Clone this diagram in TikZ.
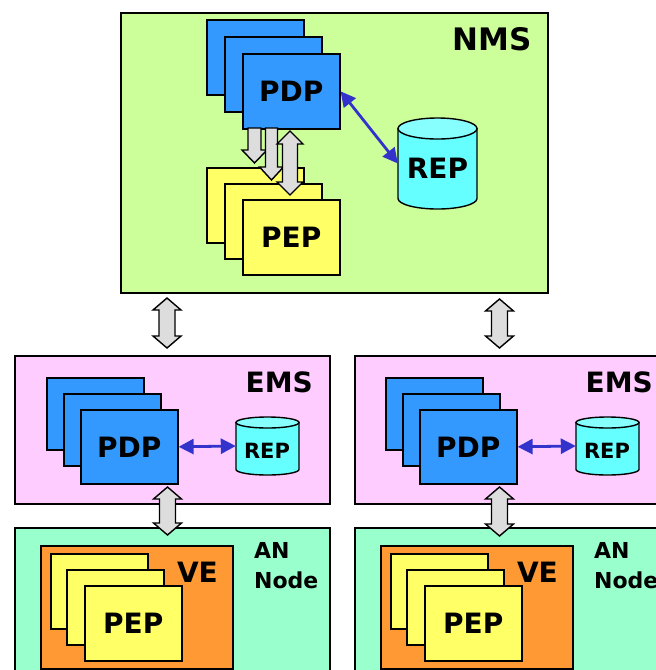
\documentclass[tikz,border=0pt]{standalone}
\usepackage{fontspec}
\setmainfont{DejaVu Sans}
\usetikzlibrary{arrows.meta,decorations.pathmorphing}

\definecolor{nmsgreen}{HTML}{CCFF99}
\definecolor{pdpblue}{HTML}{3399FF}
\definecolor{pepyellow}{HTML}{FFFF66}
\definecolor{repcyan}{HTML}{66FFFF}
\definecolor{reptop}{HTML}{88FFFF}
\definecolor{emspink}{HTML}{FFCCFF}
\definecolor{angreen}{HTML}{99FFCC}
\definecolor{veorange}{HTML}{FF9933}
\definecolor{arrowgrey}{HTML}{DDDDDD}
\definecolor{linkblue}{HTML}{3333CC}

% block arrows: #1 cx, #2 top y, #3 bottom y, #4 shaft half width, #5 head half width, #6 head length
\newcommand{\blockdouble}[6]{%
  \draw[blockarrow] (#1,#2) -- ({#1+#5},{#2+#6}) -- ({#1+#4},{#2+#6}) -- ({#1+#4},{#3-#6})
    -- ({#1+#5},{#3-#6}) -- (#1,#3) -- ({#1-#5},{#3-#6}) -- ({#1-#4},{#3-#6})
    -- ({#1-#4},{#2+#6}) -- ({#1-#5},{#2+#6}) -- cycle;}
\newcommand{\blockdown}[6]{%
  \draw[blockarrow] ({#1-#4},#2) -- ({#1+#4},#2) -- ({#1+#4},{#3-#6}) -- ({#1+#5},{#3-#6})
    -- (#1,#3) -- ({#1-#5},{#3-#6}) -- ({#1-#4},{#3-#6}) -- cycle;}
% cylinder: #1 cx, #2 top ellipse centre y, #3 bottom ellipse centre y, #4 rx, #5 ry
\newcommand{\repdrum}[5]{%
  \draw[drum, fill=repcyan] ({#1-#4},#2) -- ({#1-#4},#3)
    arc[start angle=180, end angle=360, x radius=#4pt, y radius=#5pt] -- ({#1+#4},#2) -- cycle;
  \draw[drum, fill=reptop] (#1,#2) ellipse [x radius=#4pt, y radius=#5pt];}

\tikzset{
  outer/.style={draw=black, line width=1.8pt, rectangle, inner sep=0pt, anchor=north west},
  card/.style={draw=black, line width=1.6pt, rectangle, inner sep=0pt, anchor=north west,
    minimum width=97pt, minimum height=75pt, font=\bfseries\fontsize{28}{30}\selectfont},
  pdpcard/.style={card, fill=pdpblue},
  pepcard/.style={card, fill=pepyellow},
  lbl/.style={inner sep=0pt, font=\bfseries\fontsize{28}{30}\selectfont},
  blockarrow/.style={fill=arrowgrey, draw=black, line width=1.4pt, line join=miter},
  drum/.style={draw=black, line width=1.4pt},
  linkarrow/.style={draw=linkblue, line width=2.8pt,
    {Triangle[length=15pt,width=15pt]}-{Triangle[length=15pt,width=15pt]}},
}

\begin{document}
\begin{tikzpicture}[x=1pt, y=-1pt]
\clip (0,0) rectangle (656,670);
\fill[white] (0,0) rectangle (656,670);

% ---------------- NMS ----------------
\node[outer, fill=nmsgreen, minimum width=427pt, minimum height=280pt] (nms) at (120,12) {};
\node[lbl, anchor=base east, font=\bfseries\fontsize{31}{33}\selectfont] (nmslbl) at (532,50) {NMS};

\node[pdpcard] (nmsPDPa) at (206,19) {};
\node[pdpcard] (nmsPDPb) at (224,36) {};
\node[pdpcard] (nmsPDPc) at (242,53) {PDP};

\node[pepcard] (nmsPEPa) at (206,167) {};
\node[pepcard] (nmsPEPb) at (224,183) {};
\node[pepcard] (nmsPEPc) at (242,199) {PEP};

\repdrum{437.5}{128.5}{198.5}{39.5}{10.5}
\node[inner sep=0pt, minimum width=79pt, minimum height=70pt] (nmsREP) at (437.5,163.5) {};
\node[lbl] (nmsREPtxt) at (437.5,168.5) {REP};

\draw[linkarrow] (nmsPDPc.east) -- (nmsREP.west);

\blockdown{254.5}{128}{163}{6.5}{12.5}{13}
\blockdown{271.5}{128}{180}{6}{12}{13}
\blockdouble{290}{131}{195}{7.5}{13}{13}

% ---------------- EMS left ----------------
\node[outer, fill=emspink, minimum width=315pt, minimum height=148pt] (emsL) at (14,355) {};
\node[lbl, anchor=base east] (emsLlbl) at (313,392) {EMS};
\node[pdpcard, minimum height=72pt] (emsLPDPa) at (46,377) {};
\node[pdpcard, minimum height=72pt] (emsLPDPb) at (63,393) {};
\node[pdpcard, minimum height=74pt] (emsLPDPc) at (80,409) {PDP};
\repdrum{267.5}{422.5}{469.5}{31.5}{5.5}
\node[inner sep=0pt, minimum width=63pt, minimum height=47pt] (emsLREP) at (267.5,446) {};
\node[lbl, font=\bfseries\fontsize{21}{23}\selectfont] (emsLREPtxt) at (267,451) {REP};
\draw[linkarrow] (emsLPDPc.east) -- (emsLREP.west);

% ---------------- EMS right ----------------
\node[outer, fill=emspink, minimum width=330pt, minimum height=148pt] (emsR) at (354,355) {};
\node[lbl, anchor=base east] (emsRlbl) at (653,392) {EMS};
\node[pdpcard, minimum height=72pt] (emsRPDPa) at (385,377) {};
\node[pdpcard, minimum height=72pt] (emsRPDPb) at (402,393) {};
\node[pdpcard, minimum height=74pt] (emsRPDPc) at (419,409) {PDP};
\repdrum{607.5}{422.5}{469.5}{31.5}{5.5}
\node[inner sep=0pt, minimum width=63pt, minimum height=47pt] (emsRREP) at (607.5,446) {};
\node[lbl, font=\bfseries\fontsize{21}{23}\selectfont] (emsRREPtxt) at (607,451) {REP};
\draw[linkarrow] (emsRPDPc.east) -- (emsRREP.west);

% ---------------- AN left ----------------
\node[outer, fill=angreen, minimum width=315pt, minimum height=160pt] (anL) at (14,527) {};
\node[inner sep=0pt, anchor=north west, align=left, font=\bfseries\fontsize{22}{30}\selectfont] (anLlbl) at (254,542) {AN\\Node};
\node[outer, fill=veorange, minimum width=192pt, minimum height=123pt, line width=1.6pt] (veL) at (40,545) {};
\node[lbl, anchor=base east] (veLlbl) at (218,582) {VE};
\node[pepcard] (anLPEPa) at (50,553) {};
\node[pepcard] (anLPEPb) at (66,569) {};
\node[pepcard] (anLPEPc) at (84,585) {PEP};

% ---------------- AN right ----------------
\node[outer, fill=angreen, minimum width=330pt, minimum height=160pt] (anR) at (354,527) {};
\node[inner sep=0pt, anchor=north west, align=left, font=\bfseries\fontsize{22}{30}\selectfont] (anRlbl) at (594,542) {AN\\Node};
\node[outer, fill=veorange, minimum width=192pt, minimum height=123pt, line width=1.6pt] (veR) at (380,545) {};
\node[lbl, anchor=base east] (veRlbl) at (558,582) {VE};
\node[pepcard] (anRPEPa) at (390,553) {};
\node[pepcard] (anRPEPb) at (406,569) {};
\node[pepcard] (anRPEPc) at (424,585) {PEP};

% ---------------- inter-level block arrows ----------------
\blockdouble{167}{298}{348}{8}{14}{12}
\blockdouble{499.5}{299}{348}{8}{14}{12}
\blockdouble{167.5}{487}{535}{8}{14}{12}
\blockdouble{499.5}{487}{536}{8}{14}{12}
\end{tikzpicture}
\end{document}
